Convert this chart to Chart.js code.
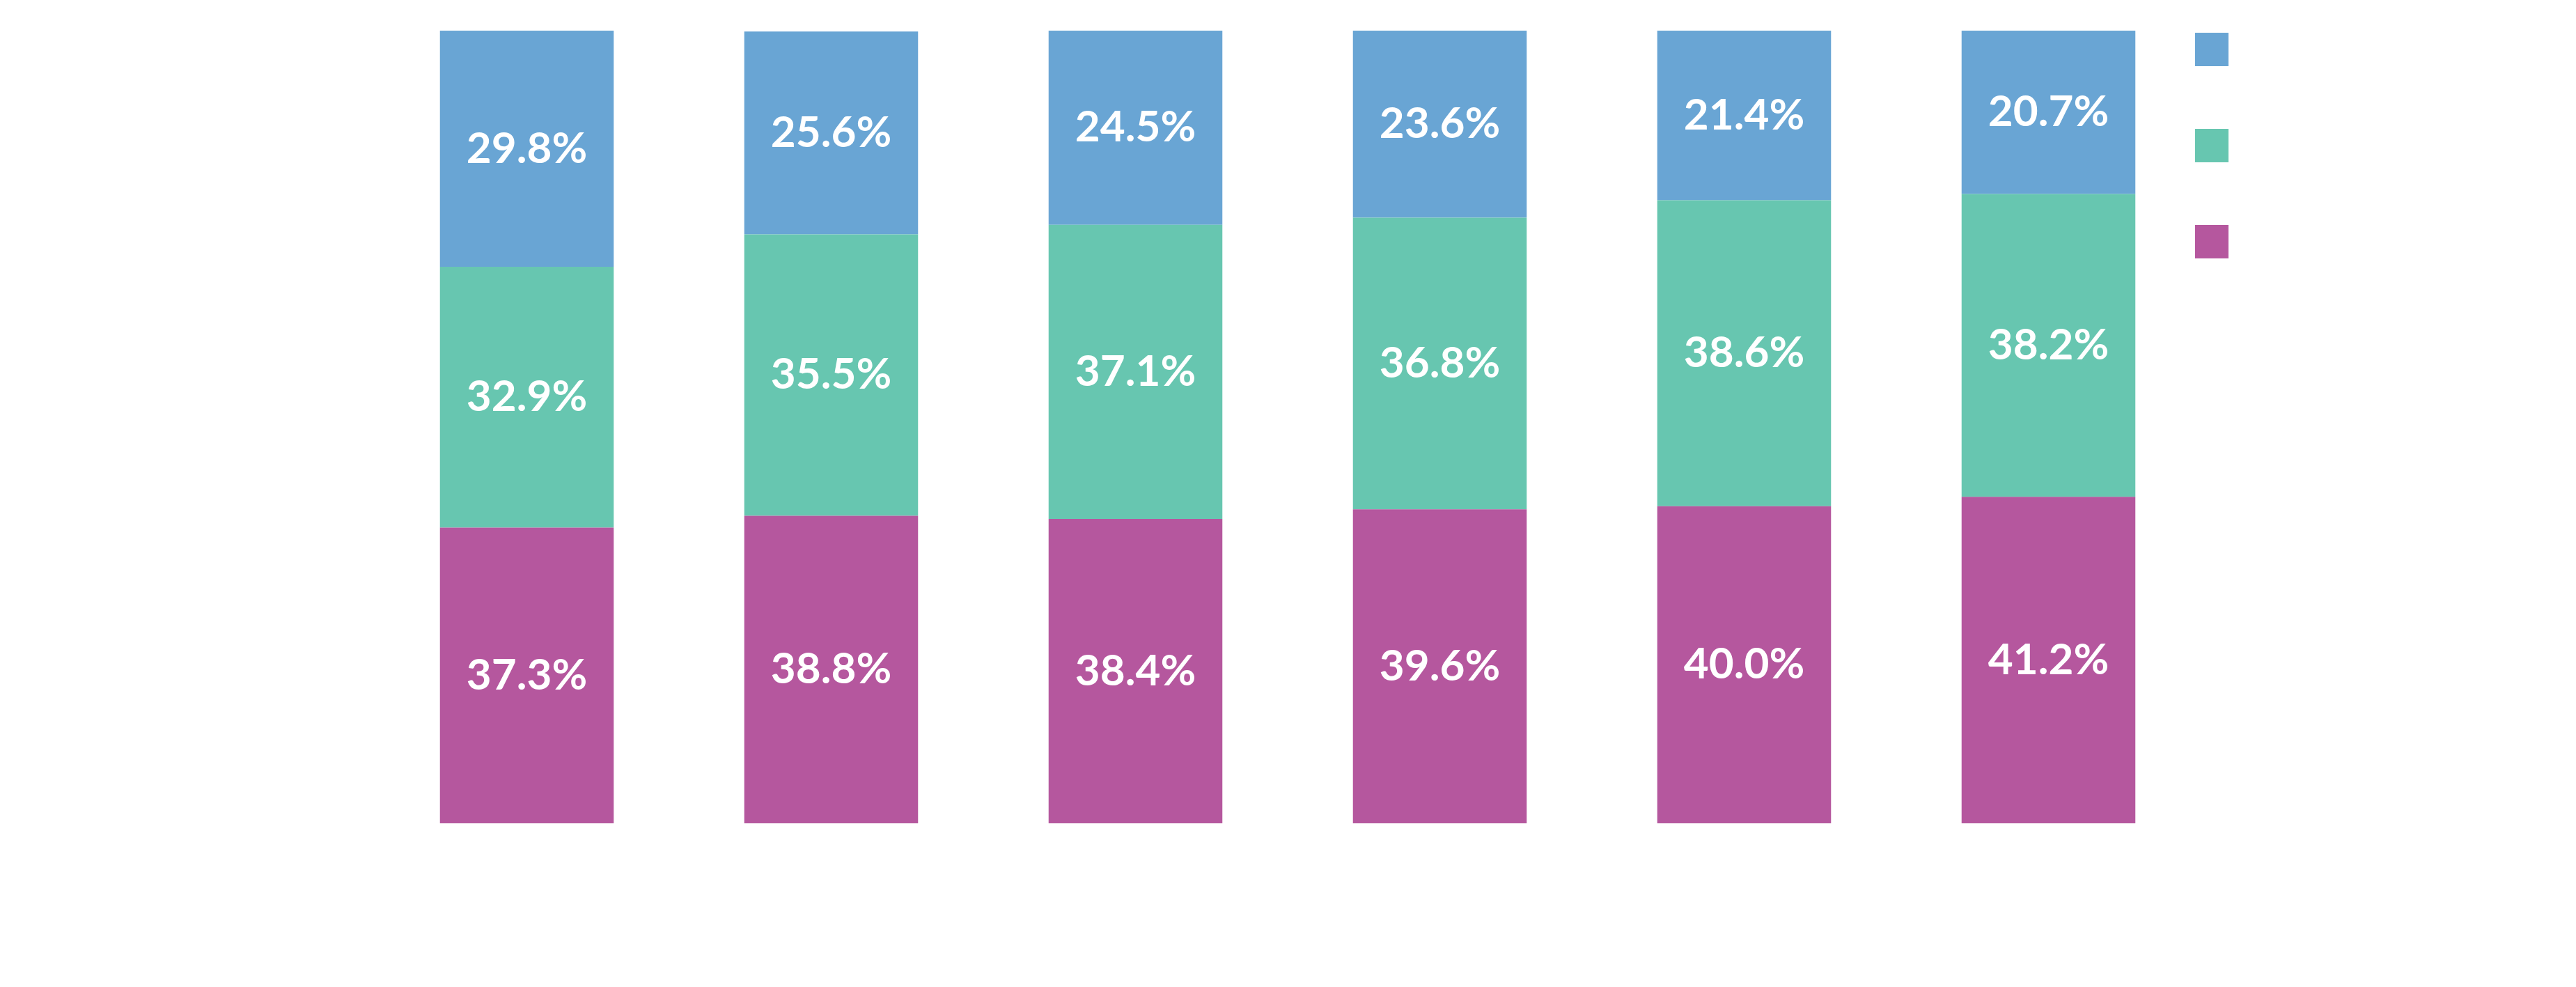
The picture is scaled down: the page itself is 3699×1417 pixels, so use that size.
<!DOCTYPE html>
<html>
<head>
<meta charset="utf-8">
<script src="https://cdn.jsdelivr.net/npm/chart.js@4/dist/chart.umd.min.js"></script>
<style>
  html, body { margin: 0; padding: 0; background: #fff; }
  #wrap { width: 3699px; height: 1417px; }
</style>
</head>
<body>
<div id="wrap"><canvas id="shareChart"></canvas></div>
<script>
// categories (axis labels are not visible in the picture)
const categories = ['1', '2', '3', '4', '5', '6'];

// series, bottom to top
const bottomValues = [37.3, 38.8, 38.4, 39.6, 40.0, 41.2];
const middleValues = [32.9, 35.5, 37.1, 36.8, 38.6, 38.2];
const topValues    = [29.8, 25.6, 24.5, 23.6, 21.4, 20.7];

const colors = ['#b5579e', '#67c6b0', '#69a5d4'];

// white percentage labels in the middle of each segment
const segmentLabels = {
  id: 'segmentLabels',
  afterDatasetsDraw(chart) {
    const ctx = chart.ctx;
    ctx.save();
    ctx.fillStyle = '#ffffff';
    ctx.font = 'bold 62px Lato';
    ctx.textAlign = 'center';
    ctx.textBaseline = 'middle';
    chart.data.datasets.forEach((ds, i) => {
      chart.getDatasetMeta(i).data.forEach((bar, j) => {
        const p = bar.getCenterPoint();
        ctx.fillText(ds.data[j].toFixed(1) + '%', p.x, p.y);
      });
    });
    ctx.restore();
  }
};

// square legend markers, top series first
const squareLegend = {
  id: 'squareLegend',
  afterDraw(chart) {
    const ctx = chart.ctx;
    const x = chart.chartArea.right - 8;
    const sets = chart.data.datasets.slice().reverse();
    ctx.save();
    sets.forEach((ds, i) => {
      ctx.fillStyle = ds.backgroundColor;
      ctx.fillRect(x, 47 + i * 138, 48, 48);
    });
    ctx.restore();
  }
};

new Chart(document.getElementById('shareChart').getContext('2d'), {
  type: 'bar',
  data: {
    labels: categories,
    datasets: [
      { label: 'Bottom', data: bottomValues, backgroundColor: colors[0] },
      { label: 'Middle', data: middleValues, backgroundColor: colors[1] },
      { label: 'Top', data: topValues, backgroundColor: colors[2] }
    ]
  },
  options: {
    responsive: true,
    maintainAspectRatio: false,
    animation: false,
    layout: { padding: { left: 538, right: 539, top: 44, bottom: 235 } },
    datasets: { bar: { categoryPercentage: 1, barPercentage: 0.571, borderWidth: 0 } },
    plugins: { legend: { display: false }, tooltip: { enabled: false } },
    scales: {
      x: { stacked: true, display: false },
      y: { stacked: true, display: false, min: 0, max: 100 }
    }
  },
  plugins: [segmentLabels, squareLegend]
});
</script>
</body>
</html>
